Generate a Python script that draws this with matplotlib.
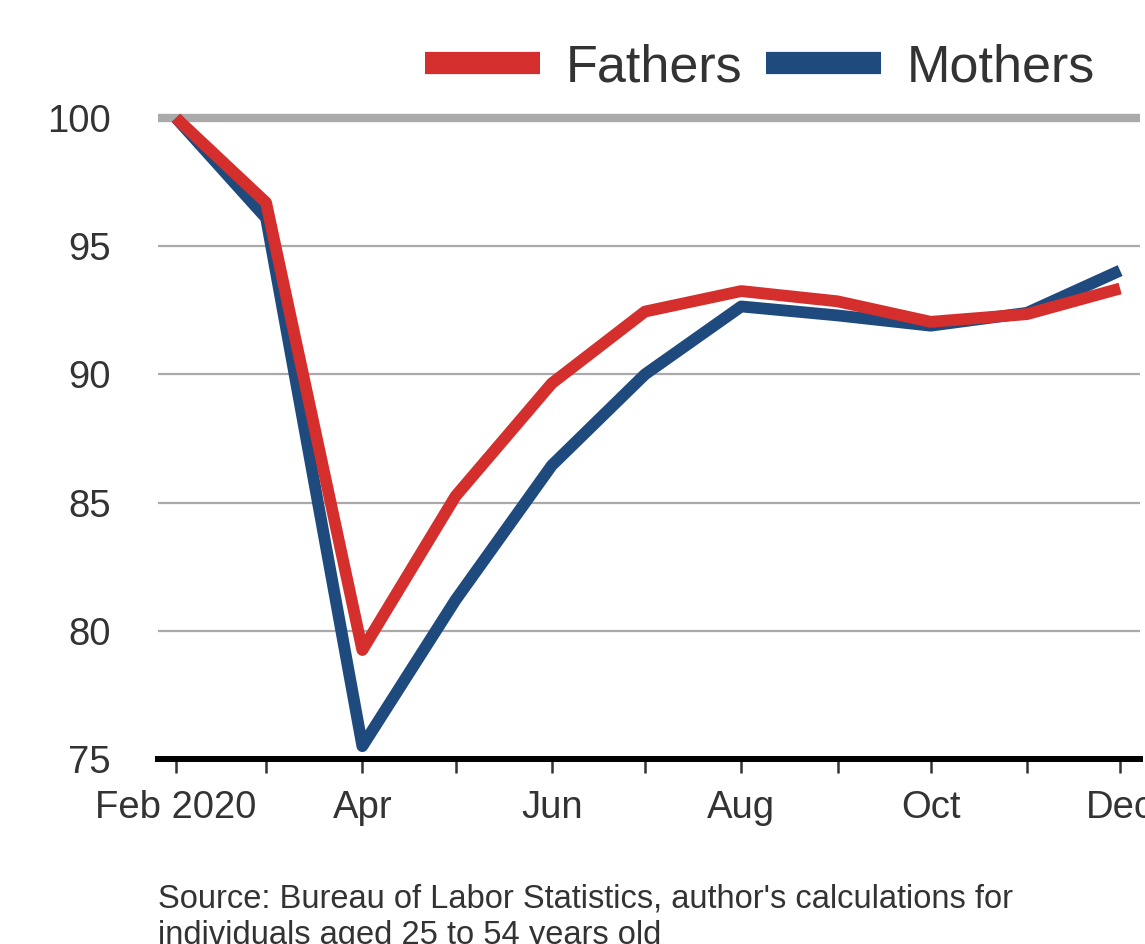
import matplotlib.pyplot as plt
import pandas as pd

plt.rcParams['font.family'] = ['Liberation Sans', 'DejaVu Sans']

# monthly index, Feb 2020 = 100
months = pd.date_range('2020-02-01', '2020-12-01', freq='MS')
fathers = [100.0, 96.7, 79.25, 85.25, 89.65, 92.45, 93.25, 92.85, 92.05, 92.35, 93.35]
mothers = [100.0, 96.1, 75.5, 81.2, 86.45, 90.0, 92.65, 92.3, 91.9, 92.4, 94.05]
tick_labels = ['Feb 2020', '', 'Apr', '', 'Jun', '', 'Aug', '', 'Oct', '', 'Dec']
yticks = [75, 80, 85, 90, 95, 100]

red = '#D42F2C'
blue = '#1F4A7E'
text_col = '#333333'

fig = plt.figure(figsize=(11.45, 9.44), dpi=100)
ax = fig.add_axes([158 / 1145, 1 - 759 / 944, (1140 - 158) / 1145, (759 - 110.3) / 944])

for y in yticks[1:-1]:
    ax.axhline(y, color='#aaaaaa', lw=1.6, zorder=1)
ax.axhline(100, color='#aaaaaa', lw=6, zorder=1)

ax.plot(months, mothers, color=blue, lw=8.5, solid_capstyle='butt',
        solid_joinstyle='round', label='Mothers', zorder=3)
ax.plot(months, fathers, color=red, lw=8.5, solid_capstyle='butt',
        solid_joinstyle='round', label='Fathers', zorder=4)

ax.set_xlim(months[0] - pd.Timedelta(days=5.8), months[-1] + pd.Timedelta(days=6.4))
ax.set_ylim(75, 100.3)

ax.set_xticks(months)
ax.set_xticklabels(tick_labels)
ax.set_yticks(yticks)
ax.tick_params(axis='x', length=10, width=1.8, color='#333333', labelsize=27.5,
               labelcolor=text_col, pad=12)
ax.tick_params(axis='y', length=0, labelsize=27.5, labelcolor=text_col, pad=34)

for s in ['top', 'right', 'left']:
    ax.spines[s].set_visible(False)
ax.spines['bottom'].set_linewidth(4.3)
ax.spines['bottom'].set_color('black')
ax.spines['bottom'].set_zorder(5)

h, l = ax.get_legend_handles_labels()
leg = fig.legend([h[1], h[0]], [l[1], l[0]], loc='center right', ncol=2,
                 bbox_to_anchor=(1095 / 1145, 1 - 68 / 944), frameon=False,
                 fontsize=37.5, handlelength=2.2, handletextpad=0.5, columnspacing=0.45,
                 borderpad=0, borderaxespad=0, labelcolor=text_col)
for line in leg.get_lines():
    line.set_linewidth(16)

fig.text(158 / 1145, 1 - 884 / 944,
         "Source: Bureau of Labor Statistics, author's calculations for\n"
         "individuals aged 25 to 54 years old",
         fontsize=23.5, color=text_col, va='top', ha='left', linespacing=1.2)

fig.savefig('out.png', dpi=100)
